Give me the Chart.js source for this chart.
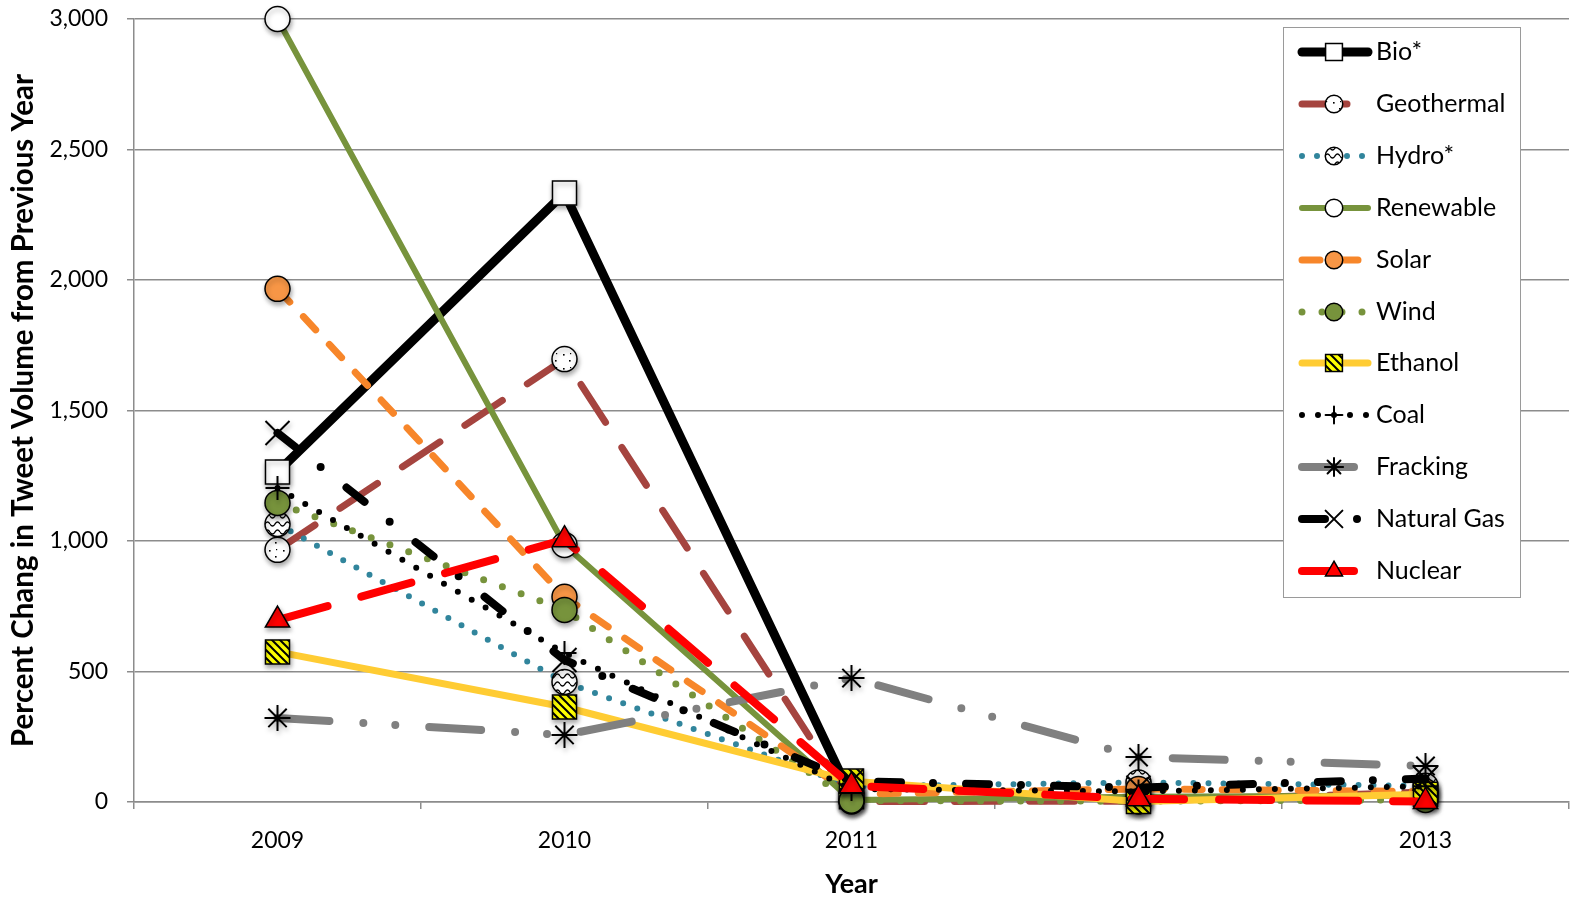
<!DOCTYPE html>
<html>
<head>
<meta charset="utf-8">
<script src="https://cdn.jsdelivr.net/npm/chart.js@4.4.1/dist/chart.umd.min.js"></script>
<style>
  html, body { margin: 0; padding: 0; background: #ffffff; }
  #wrap { width: 1573px; height: 900px; }
</style>
</head>
<body>
<div id="wrap"><canvas id="c" width="1573" height="900"></canvas></div>
<script>
// Year categories on the horizontal axis
const years = ['2009', '2010', '2011', '2012', '2013'];

// Percent change in tweet volume from the previous year, per topic
const bio        = [1264, 2333, 20, null, null];
const geothermal = [966, 1697, 2, 3, 38];
const hydro      = [1065, 460, 60, 75, 62];
const renewable  = [3000, 985, 8, 20, 25];
const solar      = [1966, 786, 30, 50, 40];
const wind       = [1146, 736, 5, 3, 8];
const ethanol    = [575, 364, 80, 2, 30];
const coal       = [1203, 571, 50, 40, 60];
const fracking   = [322, 257, 475, 172, 138];
const naturalGas = [1414, 544, 80, 55, 90];
const nuclear    = [697, 1005, 62, 12, 2];

// Value axis ticks
const yTicks = [0, 500, 1000, 1500, 2000, 2500, 3000];

const canvas = document.getElementById('c');
const ctx0 = canvas.getContext('2d');

// Small tiles used as marker fills
function tilePattern(w, h, paint) {
  const t = document.createElement('canvas');
  t.width = w; t.height = h;
  const g = t.getContext('2d');
  paint(g, w, h);
  return ctx0.createPattern(t, 'repeat');
}
const wavePattern = tilePattern(10, 8, (g, w, h) => {
  g.fillStyle = '#ffffff'; g.fillRect(0, 0, w, h);
  g.strokeStyle = '#000000'; g.lineWidth = 1.3;
  g.beginPath();
  for (let x = 0; x <= w; x += 0.5) {
    const y = 4 + 2 * Math.sin(x / w * Math.PI * 2);
    if (x === 0) g.moveTo(x, y); else g.lineTo(x, y);
  }
  g.stroke();
});
const speckPattern = tilePattern(14, 14, (g, w, h) => {
  g.fillStyle = '#ffffff'; g.fillRect(0, 0, w, h);
  g.fillStyle = '#000000';
  g.fillRect(3, 4, 1.6, 1.6);
  g.fillRect(9, 10, 1.6, 1.6);
  g.fillRect(10, 3, 1.2, 1.2);
});
const stripePattern = tilePattern(8, 8, (g, w, h) => {
  g.fillStyle = '#ffff00'; g.fillRect(0, 0, w, h);
  g.strokeStyle = '#000000'; g.lineWidth = 2;
  g.beginPath();
  [[-4, -4, 12, 12], [-12, -4, 4, 12], [4, -4, 20, 12]].forEach(s => {
    g.moveTo(s[0], s[1]); g.lineTo(s[2], s[3]);
  });
  g.stroke();
});

function series(label, data, style) {
  return Object.assign({
    label, data,
    fill: false, tension: 0, spanGaps: false, clip: false,
    borderCapStyle: 'round', borderJoinStyle: 'round',
    pointBorderColor: '#000000', pointBorderWidth: 1.5,
    pointHoverRadius: 0
  }, style);
}

const datasets = [
  series('Bio*', bio, { borderColor: '#000000', borderWidth: 9, borderDash: [],
    pointStyle: 'rect', pointRadius: 17, pointBackgroundColor: '#ffffff' }),
  series('Geothermal', geothermal, { borderColor: '#A5443F', borderWidth: 7, borderDash: [45, 30],
    pointStyle: 'circle', pointRadius: 12.5, pointBackgroundColor: speckPattern }),
  series('Hydro*', hydro, { borderColor: '#31859C', borderWidth: 6, borderDash: [0, 15],
    pointStyle: 'circle', pointRadius: 12.5, pointBackgroundColor: wavePattern }),
  series('Renewable', renewable, { borderColor: '#77933C', borderWidth: 6, borderDash: [],
    pointStyle: 'circle', pointRadius: 12.5, pointBackgroundColor: '#ffffff' }),
  series('Solar', solar, { borderColor: '#F7862A', borderWidth: 7, borderDash: [18, 20],
    pointStyle: 'circle', pointRadius: 12.5, pointBackgroundColor: '#F79646' }),
  series('Wind', wind, { borderColor: '#77933C', borderWidth: 7, borderDash: [0, 20],
    pointStyle: 'circle', pointRadius: 12.5, pointBackgroundColor: '#77933C' }),
  series('Ethanol', ethanol, { borderColor: '#FFCC33', borderWidth: 7, borderDash: [],
    pointStyle: 'rect', pointRadius: 17, pointBackgroundColor: stripePattern }),
  series('Coal', coal, { borderColor: '#000000', borderWidth: 6, borderDash: [0, 16],
    pointStyle: 'cross', pointRadius: 12, pointBorderWidth: 2, pointBackgroundColor: '#000000' }),
  series('Fracking', fracking, { borderColor: '#808080', borderWidth: 8, borderDash: [52, 34, 0, 32, 0, 34],
    pointStyle: 'star', pointRadius: 13, pointBorderWidth: 2, pointBackgroundColor: '#000000' }),
  series('Natural Gas', naturalGas, { borderColor: '#000000', borderWidth: 8, borderDash: [23, 32, 0, 33],
    pointStyle: 'crossRot', pointRadius: 17, pointBorderWidth: 2, pointBackgroundColor: '#000000' }),
  series('Nuclear', nuclear, { borderColor: '#FF0000', borderWidth: 8, borderDash: [52, 35],
    pointStyle: 'triangle', pointRadius: 14, pointBorderWidth: 1.5, pointBackgroundColor: '#FF0000' })
];
// later series are painted over earlier ones
datasets.forEach((d, i) => { d.order = datasets.length - i; });

// soft drop shadow under every marker
const basePointDraw = Chart.PointElement.prototype.draw;
Chart.PointElement.prototype.draw = function (ctx, area) {
  ctx.save();
  ctx.shadowColor = 'rgba(0,0,0,0.35)';
  ctx.shadowBlur = 5;
  ctx.shadowOffsetX = 1;
  ctx.shadowOffsetY = 3;
  basePointDraw.call(this, ctx, area);
  ctx.restore();
};

// Boxed key in the upper right of the plot, drawn with each series' own line and marker
const keyBox = { left: 1283, top: 27, width: 237, height: 570, firstRow: 52, rowStep: 51.9,
                 lineFrom: 1302, lineTo: 1368, markX: 1334, textX: 1376 };
const keyPlugin = {
  id: 'boxedKey',
  afterDraw(chart) {
    const ctx = chart.ctx;
    ctx.save();
    ctx.fillStyle = '#ffffff';
    ctx.fillRect(keyBox.left, keyBox.top, keyBox.width, keyBox.height);
    ctx.strokeStyle = '#9a9a9a';
    ctx.lineWidth = 1;
    ctx.strokeRect(keyBox.left + 0.5, keyBox.top + 0.5, keyBox.width, keyBox.height);
    chart.data.datasets.forEach((ds, i) => {
      const yy = Math.round(keyBox.firstRow + i * keyBox.rowStep);
      ctx.save();
      ctx.strokeStyle = ds.borderColor;
      ctx.lineWidth = ds.borderWidth;
      ctx.lineCap = 'round';
      ctx.setLineDash(ds.borderDash || []);
      ctx.beginPath();
      ctx.moveTo(keyBox.lineFrom, yy);
      ctx.lineTo(keyBox.lineTo, yy);
      ctx.stroke();
      ctx.setLineDash([]);
      ctx.fillStyle = ds.pointBackgroundColor;
      ctx.strokeStyle = ds.pointBorderColor;
      ctx.lineWidth = ds.pointBorderWidth;
      Chart.helpers.drawPoint(ctx, {
        pointStyle: ds.pointStyle, radius: ds.pointRadius * 0.7,
        rotation: 0, borderWidth: ds.pointBorderWidth
      }, keyBox.markX, yy);
      ctx.restore();
      ctx.fillStyle = '#000000';
      ctx.font = '25px Lato';
      ctx.textBaseline = 'middle';
      ctx.textAlign = 'left';
      ctx.fillText(ds.label, keyBox.textX, yy);
    });
    ctx.restore();
  }
};

const axisGrey = '#8c8c8c';
new Chart(canvas, {
  type: 'line',
  data: { labels: years, datasets },
  plugins: [keyPlugin],
  options: {
    responsive: false,
    animation: false,
    events: [],
    layout: { autoPadding: false, padding: { top: 19, right: 4, left: 0, bottom: 0 } },
    plugins: { legend: { display: false }, tooltip: { enabled: false } },
    scales: {
      x: {
        type: 'category',
        offset: true,
        grid: { offset: true, drawOnChartArea: false, drawTicks: true, tickLength: 7,
                color: axisGrey, lineWidth: 1.5 },
        border: { display: true, color: axisGrey, width: 1.5 },
        ticks: { color: '#000000', font: { family: 'Lato', size: 23 }, padding: 18, maxRotation: 0 },
        title: { display: true, text: 'Year', color: '#000000',
                 font: { family: 'Lato', size: 27, weight: 'bold' }, padding: { top: 0, bottom: 0 } },
        afterFit(scale) { scale.height = 98; scale.paddingLeft = 0; scale.paddingRight = 0; }
      },
      y: {
        min: 0, max: 3000,
        afterBuildTicks(scale) { scale.ticks = yTicks.map(v => ({ value: v })); },
        grid: { color: axisGrey, lineWidth: 1.5, tickLength: 7 },
        border: { display: true, color: axisGrey, width: 1.5 },
        ticks: { color: '#000000', font: { family: 'Lato', size: 23 }, padding: 19,
                 callback: v => Number(v).toLocaleString('en-US') },
        title: { display: true, text: 'Percent Chang in Tweet Volume from Previous Year', color: '#000000',
                 font: { family: 'Lato', size: 29.5, weight: 'bold' }, padding: { top: 6, bottom: 0 } },
        afterFit(scale) { scale.width = 134; scale.paddingTop = 0; scale.paddingBottom = 0; }
      }
    }
  }
});
</script>
</body>
</html>
